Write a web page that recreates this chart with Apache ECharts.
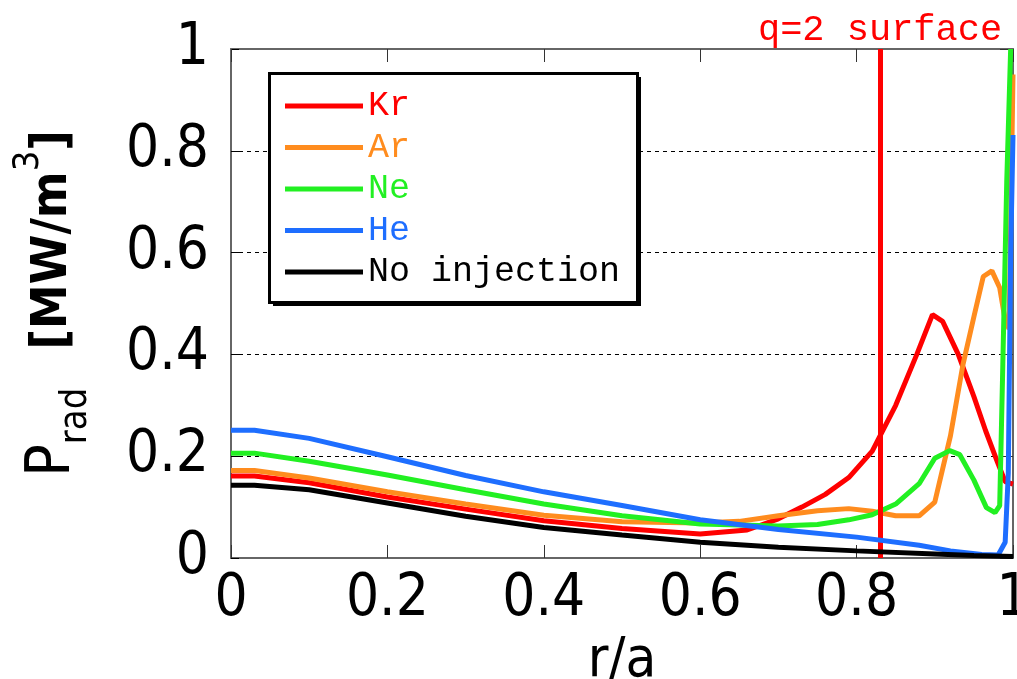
<!DOCTYPE html>
<html>
<head>
<meta charset="utf-8">
<script src="https://cdn.jsdelivr.net/npm/echarts@6/dist/echarts.min.js"></script>
<style>html,body{margin:0;padding:0;background:#fff;}#c{width:1017px;height:679px;}</style>
</head>
<body>
<div id="c"></div>
<script>
// ---- data ----
const seriesNames = ['Kr', 'Ar', 'Ne', 'He', 'No injection'];
const tickLabels = ['0', '0.2', '0.4', '0.6', '0.8', '1'];
const q2Surface = 0.826;

const rKr = [0, 0.03, 0.1, 0.2, 0.3, 0.4, 0.5, 0.6, 0.66, 0.7, 0.73, 0.76, 0.79, 0.82, 0.85, 0.877, 0.897, 0.91, 0.93, 0.95, 0.965, 0.98, 0.99, 1.0];
const pKr = [0.161, 0.161, 0.148, 0.120, 0.096, 0.073, 0.058, 0.047, 0.055, 0.077, 0.100, 0.125, 0.158, 0.210, 0.300, 0.400, 0.478, 0.465, 0.400, 0.317, 0.250, 0.189, 0.150, 0.145];

const rAr = [0, 0.03, 0.1, 0.2, 0.3, 0.4, 0.5, 0.6, 0.65, 0.7, 0.75, 0.79, 0.82, 0.85, 0.88, 0.9, 0.92, 0.936, 0.95, 0.962, 0.973, 0.983, 0.99, 0.995, 1.0];
const pAr = [0.172, 0.172, 0.157, 0.130, 0.106, 0.084, 0.071, 0.069, 0.072, 0.083, 0.093, 0.097, 0.092, 0.083, 0.083, 0.110, 0.240, 0.380, 0.474, 0.553, 0.564, 0.531, 0.467, 0.450, 0.950];

const rNe = [0, 0.03, 0.1, 0.2, 0.3, 0.4, 0.5, 0.6, 0.7, 0.75, 0.79, 0.82, 0.85, 0.88, 0.9, 0.919, 0.932, 0.95, 0.966, 0.977, 0.983, 0.987, 0.992, 0.997];
const pNe = [0.206, 0.206, 0.190, 0.163, 0.134, 0.106, 0.083, 0.067, 0.063, 0.066, 0.075, 0.085, 0.106, 0.146, 0.196, 0.211, 0.203, 0.153, 0.099, 0.089, 0.103, 0.381, 0.739, 1.0];

const rHe = [0, 0.03, 0.1, 0.2, 0.3, 0.4, 0.5, 0.6, 0.7, 0.8, 0.88, 0.92, 0.96, 0.981, 0.99, 0.994, 0.997, 1.0];
const pHe = [0.251, 0.251, 0.235, 0.199, 0.162, 0.130, 0.103, 0.075, 0.056, 0.041, 0.025, 0.014, 0.007, 0.006, 0.031, 0.167, 0.596, 0.831];

const rNo = [0, 0.03, 0.1, 0.2, 0.3, 0.4, 0.5, 0.6, 0.7, 0.8, 0.9, 0.95, 1.0];
const pNo = [0.143, 0.143, 0.134, 0.108, 0.082, 0.060, 0.045, 0.031, 0.021, 0.014, 0.008, 0.005, 0.003];

const colors = ['#ff0000', '#ff8c1e', '#22f022', '#1e6eff', '#000000'];
// -----------------------------------------

const numFont = "'Liberation Sans Narrow', 'DejaVu Sans Condensed', 'Liberation Mono', sans-serif";
const monoFont = "'Liberation Mono', 'DejaVu Sans Mono', monospace";
const fmt = v => tickLabels[Math.round(v / 0.2)];
const pairs = (xs, ys) => xs.map((x, i) => [x, ys[i]]);
const allData = [pairs(rKr, pKr), pairs(rAr, pAr), pairs(rNe, pNe), pairs(rHe, pHe), pairs(rNo, pNo)];

const chart = echarts.init(document.getElementById('c'), null, {renderer: 'canvas'});
const axisGrey = '#666';

const series = seriesNames.map((n, i) => ({
  name: n, type: 'line', data: allData[i], showSymbol: false, symbol: 'none',
  lineStyle: {color: colors[i], width: 5}, itemStyle: {color: colors[i]},
  clip: true, z: 2 + i, animation: false
}));
series.push({
  name: 'q2', type: 'line', data: [], z: 20, animation: false,
  markLine: {
    silent: true, symbol: ['none', 'none'], animation: false,
    lineStyle: {color: '#ff0000', width: 5, type: 'solid'},
    label: {show: true, position: 'end', formatter: 'q=2 surface', color: '#ff0000',
            fontFamily: monoFont, fontSize: 37, distance: 0},
    data: [{xAxis: q2Surface}]
  }
});

chart.setOption({
  animation: false,
  backgroundColor: '#fff',
  grid: {left: 231, right: 4, top: 49, bottom: 121, containLabel: false, outerBoundsMode: 'none'},
  graphic: [
    {type: 'rect', z: 30, shape: {x: 273, y: 77, width: 368, height: 229}, style: {fill: '#000'}},
    {type: 'rect', z: 31, shape: {x: 269.5, y: 73.5, width: 368, height: 229}, style: {fill: '#fff', stroke: '#000', lineWidth: 3}}
  ],
  legend: {
    z: 40,
    orient: 'vertical', left: 269, top: 73,
    data: seriesNames.map((n, i) => ({name: n, textStyle: {color: colors[i]}})),
    icon: 'rect', itemWidth: 78, itemHeight: 5, itemGap: 5.5,
    textStyle: {fontFamily: monoFont, fontSize: 35, lineHeight: 36},
    padding: [15, 12, 14, 16],
    selectedMode: false
  },
  xAxis: [{
    type: 'value', min: 0, max: 1, interval: 0.2,
    name: 'r/a', nameLocation: 'middle', nameGap: 70,
    nameTextStyle: {fontFamily: numFont, fontSize: 56, color: '#000'},
    axisLine: {show: true, onZero: false, lineStyle: {color: axisGrey, width: 2}},
    axisTick: {show: true, inside: true, length: 13, lineStyle: {color: '#333', width: 1}},
    axisLabel: {formatter: fmt, fontFamily: numFont, fontSize: 58, color: '#000', margin: 13},
    splitLine: {show: false}
  }, {
    type: 'value', min: 0, max: 1, interval: 0.2, position: 'top',
    axisLine: {show: true, onZero: false, lineStyle: {color: axisGrey, width: 2}},
    axisTick: {show: true, inside: true, length: 13, lineStyle: {color: '#333', width: 1}},
    axisLabel: {show: false}, splitLine: {show: false}
  }],
  yAxis: [{
    type: 'value', min: 0, max: 1, interval: 0.2,
    name: '{p|P}{sub|rad}{sp|}{b|[MW/m}{sup|3}{b|]}', nameLocation: 'middle', nameGap: 136, nameRotate: 90,
    nameTextStyle: {
      fontFamily: numFont, color: '#000',
      rich: {
        p: {fontFamily: numFont, fontSize: 60, lineHeight: 84, verticalAlign: 'middle', color: '#000'},
        sub: {fontFamily: numFont, fontSize: 38, lineHeight: 38, verticalAlign: 'bottom', color: '#000'},
        sp: {width: 38, fontSize: 20, lineHeight: 20},
        b: {fontFamily: numFont, fontSize: 50, fontWeight: 'bold', lineHeight: 84, verticalAlign: 'middle', color: '#000'},
        sup: {fontFamily: numFont, fontSize: 36, lineHeight: 36, verticalAlign: 'top', color: '#000'}
      }
    },
    axisLine: {show: true, onZero: false, lineStyle: {color: axisGrey, width: 2}},
    axisTick: {show: true, inside: true, length: 8, lineStyle: {color: '#000', width: 1}},
    axisLabel: {formatter: fmt, fontFamily: numFont, fontSize: 58, color: '#000', margin: 22},
    splitLine: {show: true, lineStyle: {color: '#000', width: 1, type: [4, 4]}}
  }, {
    type: 'value', min: 0, max: 1, interval: 0.2, position: 'right',
    axisLine: {show: true, onZero: false, lineStyle: {color: axisGrey, width: 2}},
    axisTick: {show: true, inside: true, length: 13, lineStyle: {color: '#333', width: 1}},
    axisLabel: {show: false}, splitLine: {show: false}
  }],
  series: series
});
</script>
</body>
</html>
